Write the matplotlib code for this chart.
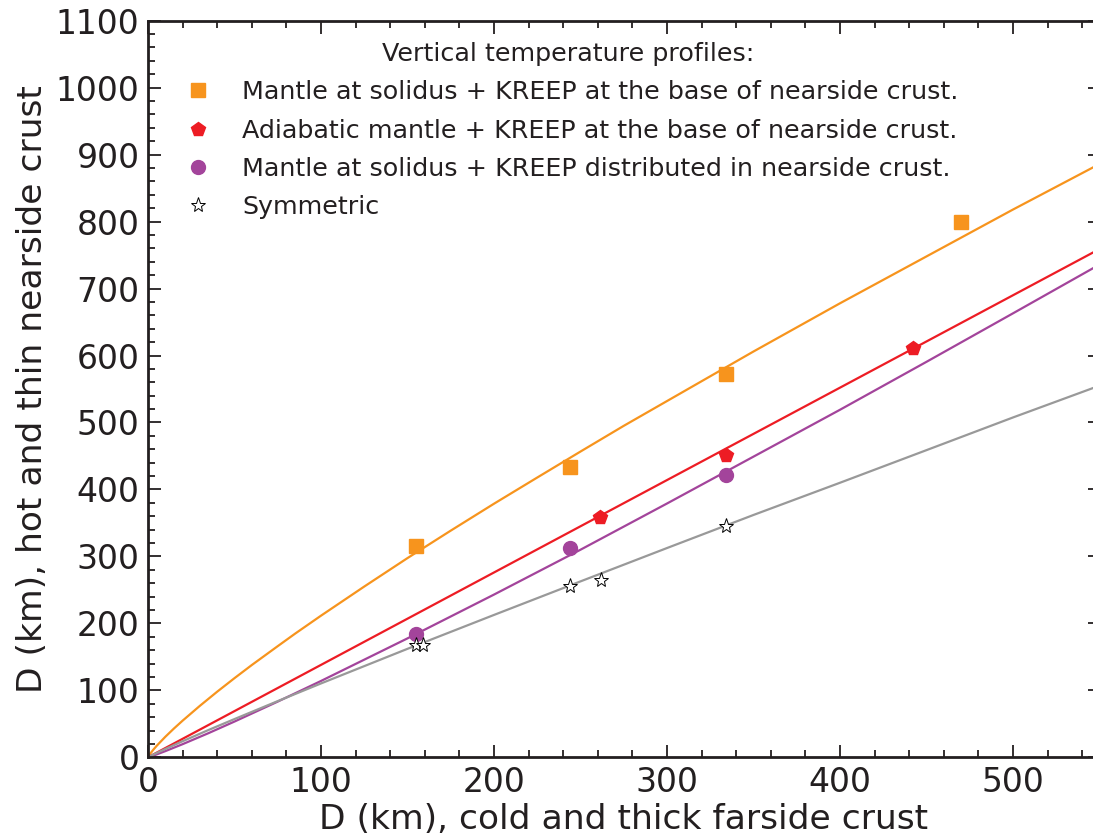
import matplotlib
matplotlib.use("Agg")
import matplotlib.pyplot as plt
from matplotlib.ticker import MultipleLocator

# markers (km)
solidus_base_x = [155, 244, 334, 470]
solidus_base_y = [315, 434, 573, 799]
adiabatic_x = [261, 334, 442]
adiabatic_y = [359, 451, 611]
distributed_x = [155, 244, 334]
distributed_y = [184, 312, 421]
symmetric_x = [155, 159, 244, 262, 334]
symmetric_y = [167, 167, 256, 265, 346]

# fitted curves, sampled off the figure
fit_solidus_base_x = [0, 1, 3, 5, 10, 15, 20, 30, 40, 50, 60, 75, 85, 100, 125, 150, 175, 200,
                      225, 250, 275, 300, 325, 350, 375, 400, 425, 450, 475, 500, 525, 550]
fit_solidus_base_y = [0, 4.4, 11.1, 17.1, 30.6, 43, 54.7, 76.9, 98, 118.2, 137.8, 166, 184.6, 211.5,
                      255, 297.5, 338.5, 378.7, 417.8, 456.6, 495, 532, 569, 606, 642, 678, 713,
                      748, 783, 818, 852, 886]
fit_adiabatic_x = [0, 550]
fit_adiabatic_y = [0, 759]
fit_curve_x = [0, 2, 5, 10, 20, 35, 50, 75, 100, 150, 200, 250, 300, 350, 400, 450, 500, 550]
fit_distributed_y = [0, 1.6, 4.3, 9.2, 19.6, 36.1, 53.4, 83.2, 114, 177.6, 243, 310, 379, 449,
                     519, 590.6, 663, 735.8]
fit_symmetric_y = [0, 2.7, 6.4, 12.4, 24.0, 40.8, 57.1, 83.9, 110.3, 162, 212.6, 262.7, 312.5,
                   361.9, 410, 458.7, 507.5, 555]

c_orange = "#f7941d"
c_red = "#ed1c24"
c_purple = "#a3449b"
c_gray = "#999999"
c_text = "#231f20"

fig = plt.figure(figsize=(10.93, 8.36), dpi=100)
ax = fig.add_axes([148 / 1093, 1 - 757.3 / 836, (1099.5 - 148) / 1093, (757.3 - 20.7) / 836])

ax.plot(fit_solidus_base_x, fit_solidus_base_y, color=c_orange, lw=1.6)
ax.plot(fit_adiabatic_x, fit_adiabatic_y, color=c_red, lw=1.6)
ax.plot(fit_curve_x, fit_distributed_y, color=c_purple, lw=1.6)
ax.plot(fit_curve_x, fit_symmetric_y, color=c_gray, lw=1.6)

ax.plot(solidus_base_x, solidus_base_y, "s", color=c_orange, ms=10, ls="none",
        label="Mantle at solidus + KREEP at the base of nearside crust.")
ax.plot(adiabatic_x, adiabatic_y, "p", color=c_red, ms=10, ls="none",
        label="Adiabatic mantle + KREEP at the base of nearside crust.")
ax.plot(distributed_x, distributed_y, "o", color=c_purple, ms=10, ls="none",
        label="Mantle at solidus + KREEP distributed in nearside crust.")
ax.plot(symmetric_x, symmetric_y, "*", mfc="white", mec="black", mew=0.7, ms=11, ls="none",
        label="Symmetric")

ax.set_xlim(0, 550)
ax.set_ylim(0, 1100)
ax.xaxis.set_major_locator(MultipleLocator(100))
ax.xaxis.set_minor_locator(MultipleLocator(20))
ax.yaxis.set_major_locator(MultipleLocator(100))
ax.yaxis.set_minor_locator(MultipleLocator(20))
ax.tick_params(which="both", direction="in", top=True, right=True, colors=c_text,
               labelsize=23.8, width=1.3)
ax.tick_params(which="major", length=9, pad=6)
ax.tick_params(which="minor", length=5)
for s in ax.spines.values():
    s.set_linewidth(2)
    s.set_color(c_text)

ax.set_xlabel("D (km), cold and thick farside crust", fontsize=24.8, color=c_text, labelpad=3)
ax.set_ylabel("D (km), hot and thin nearside crust", fontsize=24.8, color=c_text, labelpad=5)

leg = ax.legend(loc="upper left", bbox_to_anchor=(0.008, 1.002), frameon=False,
                fontsize=18.3, title="Vertical temperature profiles:", title_fontsize=18.3,
                handlelength=1.5, handletextpad=1.0, labelspacing=0.56, numpoints=1)
for t in leg.get_texts():
    t.set_color(c_text)
leg.get_title().set_color(c_text)

fig.savefig("out.png", dpi=100)
